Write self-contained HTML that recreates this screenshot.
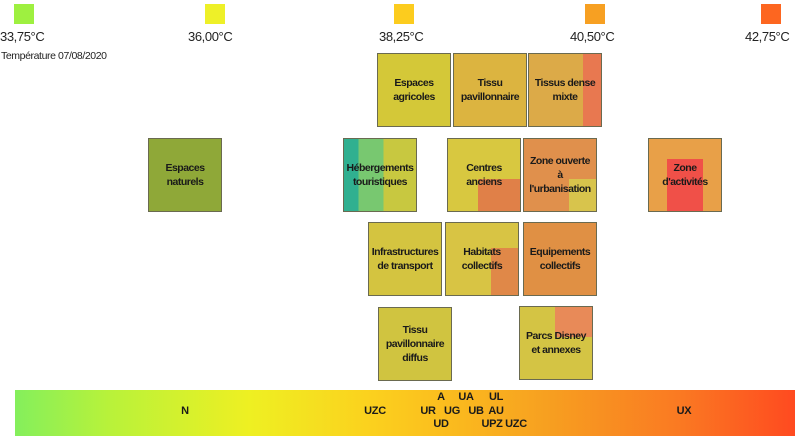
<!DOCTYPE html>
<html><head><meta charset="utf-8">
<style>
html,body{margin:0;padding:0;background:#fff;}
body{width:808px;height:440px;position:relative;overflow:hidden;font-family:"Liberation Sans",sans-serif;}
.sw{position:absolute;top:4px;width:20px;height:20px;}
.tl{position:absolute;top:29px;font-size:13px;color:#222;white-space:nowrap;letter-spacing:-0.4px;}
.tile{position:absolute;width:74px;height:74px;border:1px solid #6a6a50;box-sizing:border-box;overflow:hidden;}
.tile .p{position:absolute;}
.tile .t{position:absolute;left:0;right:0;top:0;bottom:0;display:flex;align-items:center;justify-content:center;text-align:center;font-size:10.5px;font-weight:bold;color:#1a1a1a;line-height:14px;letter-spacing:-0.5px;}
.bar{position:absolute;left:15px;top:390px;width:780px;height:46px;background:linear-gradient(90deg,#84ef5c 0%,#b8f23a 12%,#eef022 30%,#fbd21e 45%,#fbbd1e 55%,#f7a020 68%,#fa7a22 85%,#ff4a20 100%);}
.bl{position:absolute;font-size:11px;font-weight:bold;color:#1a1a1a;transform:translateX(-50%);letter-spacing:-0.3px;}
</style></head><body>
<div id="legend"></div>
<div class="tl" style="left:1px;top:50px;font-size:10.5px;">Température 07/08/2020</div>
<div id="tiles"></div>
<div class="bar" id="bar"></div>
<script>
const temps=["33,75°C","36,00°C","38,25°C","40,50°C","42,75°C"];
const swatchColors=["#9ef040","#eef028","#fccc1e","#f7a022","#fd6620"];
const swatchX=[14,205,394,585,761];
const labelX=[0,188,379,570,745];
const lg=document.getElementById('legend');
temps.forEach((t,i)=>{
 const s=document.createElement('div');s.className='sw';s.style.left=swatchX[i]+'px';s.style.background=swatchColors[i];
 
 
 lg.appendChild(s);
 const l=document.createElement('div');l.className='tl';l.style.left=labelX[i]+'px';l.textContent=t;
 
 
 lg.appendChild(l);
});
const tileNames=["Espaces<br>agricoles","Tissu<br>pavillonnaire","Tissus dense<br>mixte","Espaces<br>naturels","Hébergements<br>touristiques","Centres<br>anciens","Zone ouverte<br>à<br>l'urbanisation","Zone<br>d'activités","Infrastructures<br>de transport","Habitats<br>collectifs","Equipements<br>collectifs","Tissu<br>pavillonnaire<br>diffus","Parcs Disney<br>et annexes"];
const tileBox=[[377,53],[453,53],[528,53],[148,138],[343,138],[447,138],[523,138],[648,138],[368,222],[445,222],[523,222],[378,307],[519,306]];
const tileBg=[
"#d4c838",
"#dcb440",
"linear-gradient(90deg,#dcaa48 0 75%,#e87850 75%)",
"#8fa838",
"linear-gradient(90deg,#30b090 0 20%,#78c870 20% 55%,#c8c840 55%)",
"#d8c840",
"#e0904c",
"#e8a048",
"#d4c440",
"#d8c444",
"#e09044",
"#d0c440",
"#d4c444"];
const tilePatch=[
null,null,null,null,null,
"left:30px;top:55%;width:45px;height:45%;background:#e08048",
"left:45px;top:55%;width:30px;height:45%;background:#d8c44c",
"left:25%;top:20px;width:50%;height:54px;background:#f05048",
null,
"left:45px;top:25px;width:30px;height:49px;background:#e08848",
null,null,
"left:35px;top:0;width:40px;height:30px;background:#e88a58"];
const tl=document.getElementById('tiles');
tileNames.forEach((n,i)=>{
 const d=document.createElement('div');d.className='tile';
 d.style.left=tileBox[i][0]+'px';d.style.top=tileBox[i][1]+'px';d.style.background=tileBg[i];
 
 
 if(tilePatch[i]){const p=document.createElement('div');p.className='p';p.style.cssText+=tilePatch[i];d.appendChild(p);}
 const t=document.createElement('div');t.className='t';t.innerHTML=n;d.appendChild(t);
 tl.appendChild(d);
});
const codes=["N","UZC","A","UA","UL","UR","UG","UB","AU","UD","UPZ","UZC","UX"];
const codeX=[185,375,441,466,496,428,452,476,496,441,492,516,684];
const codeRow=[1,1,0,0,0,1,1,1,1,2,2,2,1];
const bar=document.getElementById('bar');
codes.forEach((c,i)=>{
 const b=document.createElement('div');b.className='bl';b.textContent=c;
 b.style.left=(codeX[i]-15)+'px';b.style.top=(1+codeRow[i]*13.5)+'px';
 
 
 bar.appendChild(b);
});
</script>
</body></html>
